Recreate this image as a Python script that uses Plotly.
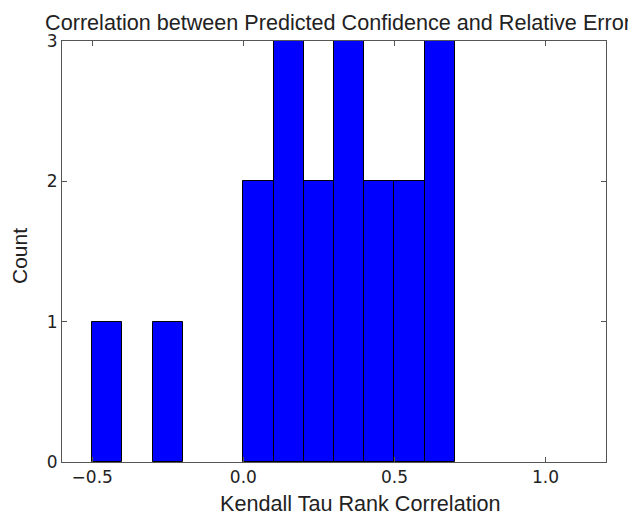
import plotly.graph_objects as go

bin_left = [-0.5, -0.4, -0.3, -0.2, -0.1, 0.0, 0.1, 0.2, 0.3, 0.4, 0.5, 0.6]
counts = [1, 0, 1, 0, 0, 2, 3, 2, 3, 2, 2, 3]
bin_width = 0.1
x_ticks = [-0.5, 0.0, 0.5, 1.0]
x_tick_text = ["\u22120.5", "0.0", "0.5", "1.0"]
y_ticks = [0, 1, 2, 3]

xs = [b + bin_width / 2 for b, c in zip(bin_left, counts) if c > 0]
ys = [c for c in counts if c > 0]

fig = go.Figure(go.Bar(
    x=xs, y=ys, width=bin_width,
    marker=dict(color="#0000FF", line=dict(color="#000000", width=1)),
))

axis_common = dict(
    showline=True, linecolor="#555555", linewidth=1, mirror="allticks",
    ticks="inside", ticklen=5, tickcolor="#555555",
    showgrid=False, zeroline=False, automargin=False,
    tickfont=dict(family="DejaVu Sans", size=17, color="#222222"),
)

W, H = 628, 506
L, R, T, B = 54, 30, 33, 52
PW, PH = W - L - R, H - T - B

fig.update_layout(
    width=W, height=H,
    margin=dict(l=L, r=R, t=T, b=B, autoexpand=False),
    plot_bgcolor="white", paper_bgcolor="white",
    showlegend=False,
    bargap=0,
    title=dict(
        text="Correlation between Predicted Confidence and Relative Error",
        font=dict(family="Liberation Sans", size=21.6, color="#222222"),
        x=330 / W, xref="container", xanchor="center",
        y=1 - 14 / H, yref="container", yanchor="middle",
        automargin=False,
    ),
    xaxis=dict(range=[-0.6, 1.2], tickvals=x_ticks, ticktext=x_tick_text, **axis_common),
    yaxis=dict(range=[0, 3], tickvals=y_ticks, **axis_common),
    annotations=[
        dict(text="Kendall Tau Rank Correlation", showarrow=False,
             xref="paper", yref="paper",
             x=(352 - L) / PW, y=(H - B - 495) / PH,
             xanchor="center", yanchor="middle", borderpad=0,
             font=dict(family="Liberation Sans", size=21.6, color="#222222")),
        dict(text="Count", showarrow=False, textangle=-90,
             xref="paper", yref="paper",
             x=(12 - L) / PW, y=(H - B - 248) / PH,
             xanchor="center", yanchor="middle",
             font=dict(family="Liberation Sans", size=21, color="#222222")),
    ],
)

fig.write_html("out.html")
